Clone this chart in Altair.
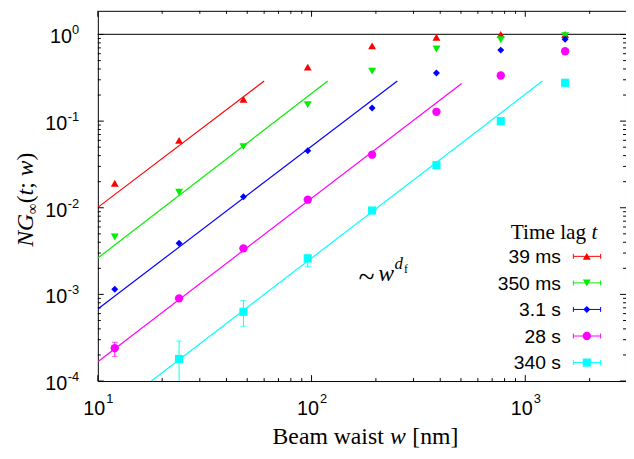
import altair as alt
import pandas as pd

# ---------------- data ----------------
series = ["39 ms", "350 ms", "3.1 s", "28 s", "340 s"]
colors = ["#ff0000", "#00ee00", "#0000ff", "#ff00ff", "#00ffff"]
shapes = ["triangle-up", "triangle-down", "diamond", "circle", "square"]
sizes = [64, 64, 50, 72, 68]

waist = [12, 24, 48, 96, 192, 384, 768, 1536]
ng_39ms = [0.0192, 0.060, 0.179, 0.42, 0.74, 0.93, 1.0, 1.0]
ng_350ms = [0.0046, 0.0151, 0.0507, 0.155, 0.377, 0.68, 0.87, 0.97]
ng_3s = [0.00115, 0.0039, 0.0134, 0.0455, 0.142, 0.36, 0.66, 0.88]
ng_28s = [0.00024, 0.0009, 0.0034, 0.0124, 0.041, 0.128, 0.336, 0.64]
ng_340s = [None, 0.00018, 0.00063, 0.0026, 0.0093, 0.031, 0.10, 0.277]
ng_all = [ng_39ms, ng_350ms, ng_3s, ng_28s, ng_340s]

# visible error bars
err_series = ["28 s", "340 s", "340 s", "340 s"]
err_w = [12, 24, 48, 96]
err_lo = [1.93e-4, 5e-5, 4.3e-4, 2.1e-3]
err_hi = [2.8e-4, 2.9e-4, 8.5e-4, 2.9e-3]

# power-law fit segments (~ w^df), start and end points
fit_w0 = [10, 10, 10, 10, 17.8]
fit_ng0 = [0.0101, 0.00263, 6.8e-4, 1.67e-4, 1e-4]
fit_w1 = [60, 119, 252, 504, 1202]
fit_ng1 = [0.29, 0.29, 0.29, 0.272, 0.29]

# axes
x_major = [10, 100, 1000]
x_exp = ["1", "2", "3"]
x_minor = [20, 30, 40, 50, 60, 70, 80, 90,
           200, 300, 400, 500, 600, 700, 800, 900, 2000]
y_major = [1e-4, 1e-3, 1e-2, 1e-1, 1.0]
y_exp = ["-4", "-3", "-2", "-1", "0"]
decades = [1e-4, 1e-3, 1e-2, 1e-1]
mults = [2, 3, 4, 5, 6, 7, 8, 9]
y_minor = [m * d for d in decades for m in mults]

# ---------------- layout ----------------
W, H = 535, 375
xs = alt.Scale(type="log", domain=[10, 2960])
ys = alt.Scale(type="log", domain=[1e-4, 1.875])
SERIF = "Liberation Serif"
SANS = "Liberation Sans"

cscale = alt.Scale(domain=series, range=colors)

def X(f="w"):
    return alt.X(f"{f}:Q", scale=xs, axis=None)

def Y(f="v"):
    return alt.Y(f"{f}:Q", scale=ys, axis=None)

layers = []

# reference line at 1
layers.append(
    alt.Chart(pd.DataFrame({"v": [1.0]}))
    .mark_rule(color="#333333", strokeWidth=1.3)
    .encode(y=Y())
)

# fit lines
fit_rows = []
for s, a, b, c, d in zip(series, fit_w0, fit_ng0, fit_w1, fit_ng1):
    fit_rows.append({"series": s, "w": a, "v": b})
    fit_rows.append({"series": s, "w": c, "v": d})
layers.append(
    alt.Chart(pd.DataFrame(fit_rows))
    .mark_line(strokeWidth=1.2, clip=True)
    .encode(x=X(), y=Y(), color=alt.Color("series:N", scale=cscale, legend=None),
            detail="series:N")
)

# error bars
err_df = pd.DataFrame({"series": err_series, "w": err_w, "lo": err_lo, "hi": err_hi})
layers.append(
    alt.Chart(err_df).mark_rule(strokeWidth=1, clip=True)
    .encode(x=X(), y=Y("lo"), y2="hi:Q",
            color=alt.Color("series:N", scale=cscale, legend=None))
)
for f in ["lo", "hi"]:
    layers.append(
        alt.Chart(err_df).mark_tick(orient="horizontal", size=6, thickness=1, clip=True)
        .encode(x=X(), y=Y(f), color=alt.Color("series:N", scale=cscale, legend=None))
    )

# data points
for s, col, shp, sz, vals in zip(series, colors, shapes, sizes, ng_all):
    df = pd.DataFrame({"w": waist, "v": vals}).dropna()
    layers.append(
        alt.Chart(df).mark_point(filled=True, opacity=1, shape=shp, size=sz,
                                 color=col, strokeWidth=0)
        .encode(x=X(), y=Y())
    )

# ticks (inward, all four sides)
def xticks(vals, ln):
    df = pd.DataFrame({"w": vals})
    return [
        alt.Chart(df).mark_rule(color="black", strokeWidth=1)
        .encode(x=X(), y=alt.value(H), y2=alt.value(H - ln)),
        alt.Chart(df).mark_rule(color="black", strokeWidth=1)
        .encode(x=X(), y=alt.value(0), y2=alt.value(ln)),
    ]

def yticks(vals, ln):
    df = pd.DataFrame({"v": vals})
    return [
        alt.Chart(df).mark_rule(color="black", strokeWidth=1)
        .encode(y=Y(), x=alt.value(0), x2=alt.value(ln)),
        alt.Chart(df).mark_rule(color="black", strokeWidth=1)
        .encode(y=Y(), x=alt.value(W), x2=alt.value(W - ln)),
    ]

layers += xticks(x_major, 6) + xticks(x_minor, 3)
layers += yticks(y_major, 6) + yticks(y_minor, 3)

# x tick labels
xl = pd.DataFrame({"w": x_major, "base": ["10"] * 3, "exp": x_exp})
layers.append(
    alt.Chart(xl).mark_text(align="right", baseline="alphabetic", font=SANS,
                            fontSize=20, dx=7.5, color="black")
    .encode(x=X(), y=alt.value(409), text="base:N")
)
layers.append(
    alt.Chart(xl).mark_text(align="left", baseline="alphabetic", font=SANS,
                            fontSize=13, dx=8.5, color="black")
    .encode(x=X(), y=alt.value(397), text="exp:N")
)

# y tick labels
yl = pd.DataFrame({"v": y_major, "base": ["10"] * 5, "exp": y_exp})
layers.append(
    alt.Chart(yl).mark_text(align="right", baseline="alphabetic", font=SANS,
                            fontSize=13, dy=0, color="black")
    .encode(y=Y(), x=alt.value(-19), text="exp:N")
)
layers.append(
    alt.Chart(yl[yl["exp"] == "0"]).mark_text(align="right", baseline="alphabetic",
                                              font=SANS, fontSize=20, dy=9, color="black")
    .encode(y=Y(), x=alt.value(-26.3), text="base:N")
)
layers.append(
    alt.Chart(yl[yl["exp"] != "0"]).mark_text(align="right", baseline="alphabetic",
                                              font=SANS, fontSize=20, dy=9, color="black")
    .encode(y=Y(), x=alt.value(-31), text="base:N")
)

# text helper
def txt(s, x, y, size, style="normal", font=SERIF, align="left", angle=0,
        baseline="alphabetic"):
    kw = dict(align=align, baseline=baseline, font=font, fontSize=size,
              fontStyle=style, color="black")
    if angle:
        kw["angle"] = angle
    return (alt.Chart(pd.DataFrame({"t": [s]})).mark_text(**kw)
            .encode(x=alt.value(x), y=alt.value(y), text="t:N"))

# x title
layers += [
    txt("Beam waist", 177, 439, 24),
    txt("w", 296, 439, 24, "italic"),
    txt("[nm]", 318.5, 439, 24),
]

# y title (rotated)
yx = -66
layers += [
    txt("NG", yx, 239, 24, "italic", angle=270),
    txt("∞", yx + 4, 205.7, 15, angle=270),
    txt("(", yx, 195, 24, angle=270),
    txt("t", yx, 187, 24, "italic", angle=270),
    txt(";", yx, 180.3, 24, angle=270),
    txt("w", yx, 167.6, 24, "italic", angle=270),
    txt(")", yx, 151.6, 24, angle=270),
]

# annotation ~ w^{d_f}
layers += [
    txt("~", 264, 280, 30),
    txt("w", 284, 274, 24, "italic"),
    txt("d", 300.5, 262, 17, "italic"),
    txt("f", 310, 265.5, 12),
]

# legend
layers += [
    txt("Time lag", 494.6, 231, 21.5, align="right"),
    txt("t", 506, 231, 21.5, "italic", align="right"),
]
leg_y0, leg_dy = 248.7, 26.9
for i, (s, col, shp, sz) in enumerate(zip(series, colors, shapes, sizes)):
    ly = leg_y0 + i * leg_dy
    d = pd.DataFrame({"label": [s]})
    layers.append(
        alt.Chart(d).mark_text(align="right", baseline="middle", font=SANS,
                               fontSize=19.5, color="black")
        .encode(x=alt.value(469), y=alt.value(ly + 1), text="label:N")
    )
    layers.append(
        alt.Chart(d).mark_rule(color=col, strokeWidth=1)
        .encode(x=alt.value(481.7), x2=alt.value(509.3), y=alt.value(ly))
    )
    for cx in (481.7, 509.3):
        layers.append(
            alt.Chart(d).mark_rule(color=col, strokeWidth=1)
            .encode(x=alt.value(cx), y=alt.value(ly - 2.5), y2=alt.value(ly + 2.5))
        )
    layers.append(
        alt.Chart(d).mark_point(filled=True, opacity=1, shape=shp, size=sz,
                                color=col, strokeWidth=0)
        .encode(x=alt.value(495.3), y=alt.value(ly))
    )

chart = (
    alt.layer(*layers)
    .properties(width=W, height=H,
                padding={"left": 91, "top": 0, "right": 0, "bottom": 68},
                autosize=alt.AutoSizeParams(type="none"),
                background="white")
    .configure_view(stroke="black", strokeWidth=1)
)

chart.save("out.html", embed_options={"renderer": "svg", "actions": False})
